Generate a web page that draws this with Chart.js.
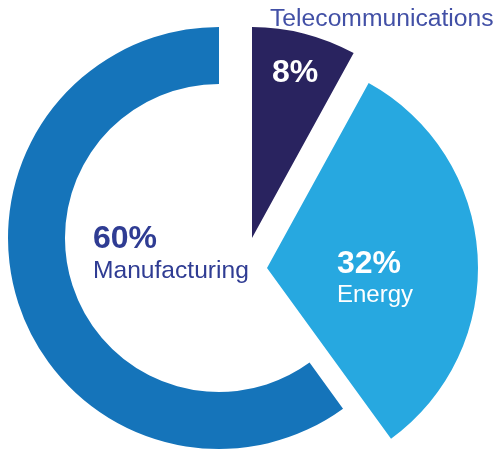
<!DOCTYPE html>
<html>
<head>
<meta charset="utf-8">
<script src="https://cdn.jsdelivr.net/npm/chart.js@4"></script>
<style>
  html, body { margin: 0; padding: 0; background: #ffffff; }
  #wrap { width: 498px; height: 453px; }
</style>
</head>
<body>
<div id="wrap"><canvas id="chart" width="498" height="453"></canvas></div>
<script>
// Sector shares (percent)
const categories = ['Telecommunications', 'Energy', 'Manufacturing'];
const shares = [8, 32, 60];
const percentLabels = ['8%', '32%', '60%'];

// Styling
const sliceColors = ['#29235F', '#27A8E0', '#1574BA'];
// Exploded displacement of each slice (px) and whether it is a solid wedge
const sliceShift = [[33, 0], [48, 30], [0, 0]];
const solidWedge = [true, true, false];

const FONT = '"Liberation Sans", Arial, sans-serif';
const DARK_TEXT = '#2F3C93';

// Moves slices apart and fills in the wedges that have no hole
const explodeSlices = {
  id: 'explodeSlices',
  afterDatasetUpdate(chart, args) {
    const meta = chart.getDatasetMeta(args.index);
    meta.data.forEach((arc, i) => {
      arc.x += sliceShift[i][0];
      arc.y += sliceShift[i][1];
      if (solidWedge[i]) arc.innerRadius = 0;
    });
  }
};

// Percentage and category labels placed from each slice's geometry
const sliceLabels = {
  id: 'sliceLabels',
  afterDatasetsDraw(chart) {
    const ctx = chart.ctx;
    const [tel, ene, man] = chart.getDatasetMeta(0).data;
    ctx.save();
    ctx.textBaseline = 'alphabetic';

    // Telecommunications: value inside the wedge, name above it
    const mid = (tel.startAngle + tel.endAngle) / 2;
    const r = tel.outerRadius * 0.82;
    ctx.fillStyle = '#ffffff';
    ctx.textAlign = 'center';
    ctx.font = 'bold 32px ' + FONT;
    ctx.fillText(percentLabels[0], tel.x + Math.cos(mid) * r, tel.y + Math.sin(mid) * r + 11.5);
    ctx.fillStyle = '#4250A6';
    ctx.textAlign = 'left';
    ctx.font = '24.7px ' + FONT;
    ctx.fillText(categories[0], tel.x + 18, tel.y - tel.outerRadius - 1);

    // Energy
    ctx.fillStyle = '#ffffff';
    ctx.font = 'bold 32px ' + FONT;
    ctx.fillText(percentLabels[1], ene.x + 70, ene.y + 5);
    ctx.font = '24px ' + FONT;
    ctx.fillText(categories[1], ene.x + 70, ene.y + 34);

    // Manufacturing, inside the ring
    ctx.fillStyle = DARK_TEXT;
    ctx.font = 'bold 32px ' + FONT;
    ctx.fillText(percentLabels[2], man.x - 126, man.y + 10);
    ctx.font = '24.6px ' + FONT;
    ctx.fillText(categories[2], man.x - 126, man.y + 40);
    ctx.restore();
  }
};

new Chart(document.getElementById('chart'), {
  type: 'doughnut',
  data: {
    labels: categories,
    datasets: [{
      data: shares,
      backgroundColor: sliceColors,
      borderWidth: 0,
      offset: 0,
      hoverOffset: 0
    }]
  },
  options: {
    responsive: false,
    animation: false,
    events: [],
    cutout: '73%',
    rotation: 0,
    layout: { padding: { left: 8, top: 27, right: 68, bottom: 4 } },
    plugins: {
      legend: { display: false },
      tooltip: { enabled: false }
    }
  },
  plugins: [explodeSlices, sliceLabels]
});
</script>
</body>
</html>
